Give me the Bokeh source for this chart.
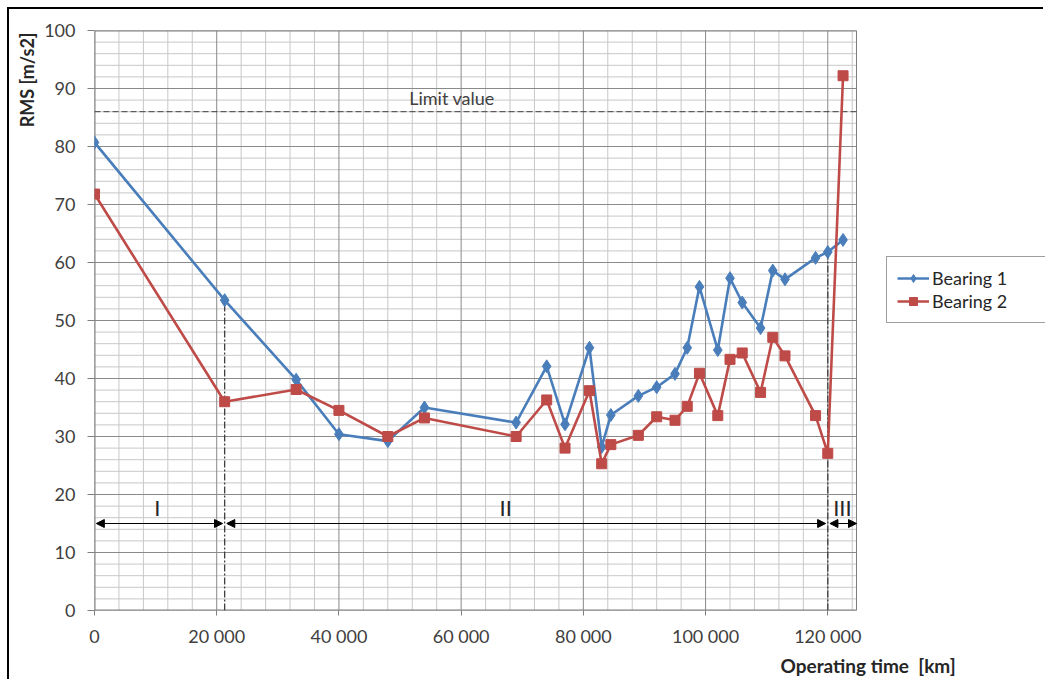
from bokeh.plotting import figure
from bokeh.models import (Range1d, FixedTicker, Legend, LegendItem, Label, Title,
                          Arrow, NormalHead, ColumnDataSource)
from bokeh.embed import file_html
from bokeh.resources import INLINE
from bokeh.core.properties import value

# ---------------- data ----------------
km = [0, 21300, 33000, 40000, 48000, 54000, 69000, 74000, 77000, 81000, 83000, 84500,
      89000, 92000, 95000, 97000, 99000, 102000, 104000, 106000, 109000, 111000, 113000,
      118000, 120000, 122500]
bearing1 = [80.7, 53.5, 39.8, 30.4, 29.2, 35.0, 32.4, 42.1, 32.1, 45.3, 28.2, 33.7,
            37.0, 38.5, 40.8, 45.3, 55.8, 44.9, 57.3, 53.1, 48.7, 58.6, 57.1,
            60.8, 61.8, 63.9]
bearing2 = [71.8, 36.0, 38.1, 34.5, 30.0, 33.2, 30.0, 36.3, 28.0, 37.9, 25.3, 28.6,
            30.2, 33.4, 32.8, 35.2, 40.9, 33.6, 43.3, 44.4, 37.6, 47.1, 43.9,
            33.6, 27.1, 92.2]
limit_value = 86
phase_names = ["I", "II", "III"]
phase_bounds = [0, 21300, 120000, 124700]
x_ticks = [0, 20000, 40000, 60000, 80000, 100000, 120000]
x_tick_labels = ["0", "20 000", "40 000", "60 000", "80 000", "100 000", "120 000"]
y_ticks = [0, 10, 20, 30, 40, 50, 60, 70, 80, 90, 100]

BLUE = "#4a7ebb"
RED = "#be4b48"
FONT = "Lato"
TXT = "#404040"
MAJ = "#8a8a8a"
MIN = "#c8c8c8"

# layout: the data area is 762 px wide; the frame extends right to hold the legend
W, H = 1036, 672
LEFT, TOP, BOTTOM = 85, 21, 71
x_max = phase_bounds[-1]
y_max = y_ticks[-1]
frame_px = W - LEFT
x_end = x_max * frame_px / 762.0

p = figure(width=W, height=H, x_range=Range1d(0, x_end), y_range=Range1d(0, y_max),
           output_backend="svg", toolbar_location=None,
           min_border_left=LEFT, min_border_right=0, min_border_top=TOP,
           min_border_bottom=BOTTOM)
p.styles = {"margin-left": "7px", "margin-top": "7px",
            "border-left": "2px solid black", "border-top": "2px solid black"}
p.background_fill_color = "white"
p.border_fill_color = "white"
p.outline_line_color = None
p.xgrid.visible = False
p.ygrid.visible = False

# axes
p.xaxis.ticker = FixedTicker(ticks=x_ticks)
p.yaxis.ticker = FixedTicker(ticks=y_ticks)
p.xaxis.major_label_overrides = {t: l for t, l in zip(x_ticks, x_tick_labels)}
for ax in (p.xaxis, p.yaxis):
    ax.axis_line_color = None
    ax.minor_tick_line_color = None
    ax.major_tick_line_color = "#7f7f7f"
    ax.major_tick_in = 0
    ax.major_label_text_font = FONT
    ax.major_label_text_font_size = "18px"
    ax.major_label_text_color = TXT
p.yaxis.major_tick_out = 7
p.yaxis.major_label_standoff = 12
p.xaxis.major_tick_out = 5
p.xaxis.major_label_standoff = 9

# grid (drawn only over the data area 0..x_max)
vx_minor = [x for x in range(0, x_max + 1, 4000) if x not in x_ticks]
hy_minor = [y for y in range(0, y_max + 1, 2) if y not in y_ticks]
p.segment(x0=vx_minor, y0=[0] * len(vx_minor), x1=vx_minor, y1=[y_max] * len(vx_minor),
          line_color=MIN, line_width=1)
p.segment(x0=[0] * len(hy_minor), y0=hy_minor, x1=[x_max] * len(hy_minor), y1=hy_minor,
          line_color=MIN, line_width=1)
p.segment(x0=x_ticks, y0=[0] * len(x_ticks), x1=x_ticks, y1=[y_max] * len(x_ticks),
          line_color=MAJ, line_width=1)
p.segment(x0=[0] * len(y_ticks), y0=y_ticks, x1=[x_max] * len(y_ticks), y1=y_ticks,
          line_color=MAJ, line_width=1)
# frame edges
p.segment(x0=[0, 0, 0], y0=[0, 0, y_max], x1=[0, x_max, x_max], y1=[y_max, 0, y_max],
          line_color="#7f7f7f", line_width=2)
p.segment(x0=[x_max], y0=[0], x1=[x_max], y1=[y_max], line_color="#7f7f7f", line_width=1)

# limit line
p.segment(x0=[0], y0=[limit_value], x1=[x_max], y1=[limit_value], line_color="#404040",
          line_dash="6 3", line_width=1)
p.add_layout(Label(x=51500, y=limit_value + 0.5, text="Limit value", text_font=FONT,
                   text_font_size="18px", text_color=TXT, text_baseline="bottom"))

# phase boundaries (dash-dot) up to Bearing 1 value
bx = phase_bounds[1:3]
btop = [bearing1[km.index(b)] for b in bx]
p.segment(x0=bx, y0=[0] * len(bx), x1=bx, y1=btop, line_color="#404040",
          line_dash="7 2 2 2", line_width=1.3)

# phase arrows
gap = 350
arrow_y = 15
for i in range(3):
    x0 = phase_bounds[i] + (300 if i == 0 else gap)
    x1 = phase_bounds[i + 1] - (gap if i < 2 else 0)
    p.add_layout(Arrow(x_start=x0, y_start=arrow_y, x_end=x1, y_end=arrow_y,
                       line_color="black", line_width=1.2,
                       start=NormalHead(size=8, fill_color="black", line_color="black"),
                       end=NormalHead(size=8, fill_color="black", line_color="black")))
phase_src = ColumnDataSource(dict(x=[10300, 67300, 122400], y=[17.8, 17.8, 17.8],
                                  t=phase_names))
p.text(x="x", y="y", text="t", source=phase_src, text_font=value(FONT),
       text_font_size="22px", text_color="#262626", text_align="center",
       text_baseline="middle")

# series
l1 = p.line(km, bearing1, line_color=BLUE, line_width=2.6)
m1 = p.scatter(km, bearing1, marker="diamond", size=13, fill_color=BLUE, line_color=BLUE)
l2 = p.line(km, bearing2, line_color=RED, line_width=2.6)
m2 = p.scatter(km, bearing2, marker="square", size=10, fill_color=RED, line_color=RED)

legend = Legend(items=[LegendItem(label="Bearing 1", renderers=[l1, m1]),
                       LegendItem(label="Bearing 2", renderers=[l2, m2])],
                location=(792, 287), margin=0, padding=10, spacing=1,
                glyph_width=32, glyph_height=20, label_height=20, label_width=104,
                label_standoff=3, label_text_font=FONT, label_text_font_size="18px",
                label_text_color="#262626", border_line_color="#404040",
                border_line_width=1, background_fill_color="white",
                background_fill_alpha=1)
p.add_layout(legend, "center")

# axis titles
p.add_layout(Title(text="RMS [m/s2]", align="right", offset=2, standoff=8,
                   text_font=FONT, text_font_style="bold", text_font_size="18px",
                   text_color="#262626"), "left")
p.add_layout(Title(text="Operating time\u00a0 [km]", align="left", offset=686, standoff=4,
                   text_font=FONT, text_font_style="bold", text_font_size="19px",
                   text_color="#262626"), "below")

open("out.html", "w").write(file_html(p, INLINE))
